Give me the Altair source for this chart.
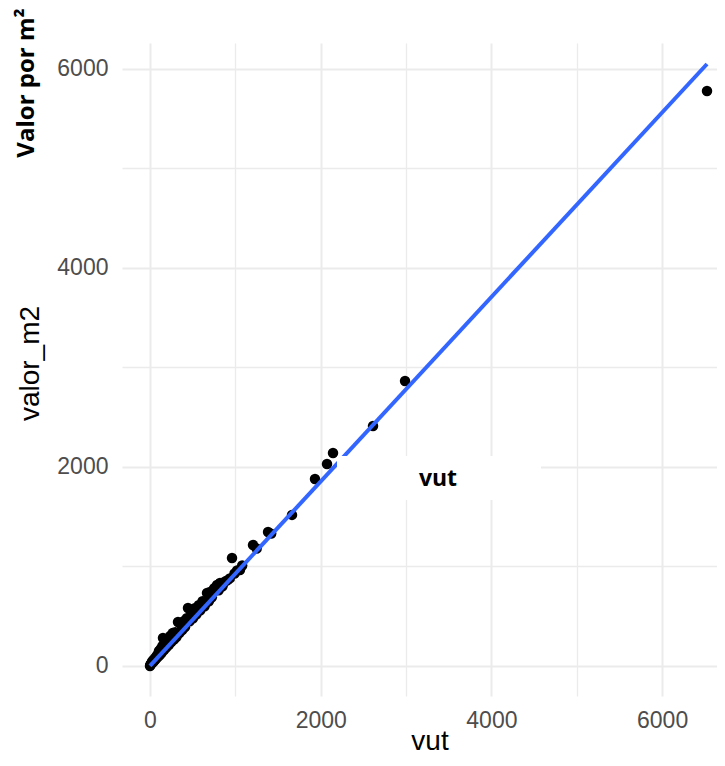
import altair as alt
import pandas as pd

# ---- data ----
vut = [0, 4, 8, 12, 18, 25, 32, 40, 48, 55, 63, 70, 78, 85, 95, 105, 115, 125, 135, 145,
       152, 165, 178, 190, 205, 220, 235, 250, 265, 280, 295, 310, 328, 345, 360, 378, 395,
       410, 430, 445, 465, 485, 505, 525, 545, 570, 590, 615, 640, 668, 690, 703, 725, 750,
       785, 805, 820, 850, 880, 905, 935, 961, 990, 1020, 1054, 1080, 1207, 1250, 1383, 1420,
       1664, 1933, 2074, 2144, 2613, 2988, 6526]
valor_m2 = [0, 10, 15, 20, 30, 45, 35, 60, 50, 75, 65, 90, 80, 110, 95, 150, 110, 170, 130, 200,
            281, 160, 230, 185, 260, 210, 300, 240, 330, 265, 340, 290, 442, 330, 420, 360, 450,
            390, 480, 583, 450, 540, 480, 580, 520, 610, 560, 650, 600, 734, 650, 744, 690, 780,
            814, 760, 834, 800, 850, 860, 880, 1085, 930, 960, 965, 1010, 1216, 1180, 1347, 1330,
            1518, 1879, 2030, 2141, 2412, 2864, 5779]
fit_vut = [0, 6526]
fit_valor_m2 = [0, 6050]
x_ticks = [0, 1000, 2000, 3000, 4000, 5000, 6000]
y_ticks = [0, 1000, 2000, 3000, 4000, 5000, 6000]
overlay_label = ["Valor por m²"]
box_label = ["vut"]

points = pd.DataFrame({"vut": vut, "valor_m2": valor_m2})
fit = pd.DataFrame({"vut": fit_vut, "valor_m2": fit_valor_m2})

W, H = 595, 653
xscale = alt.Scale(domain=[-328, 6643], nice=False, zero=False)
yscale = alt.Scale(domain=[-302, 6261], nice=False, zero=False)

major = "datum.value % 2000 === 0"
grid_w = {"condition": {"test": major, "value": 2.0}, "value": 1.3}
lab_expr = "datum.value % 2000 === 0 ? datum.label : ''"

x_axis = alt.Axis(values=x_ticks, format="d", labelExpr=lab_expr, gridWidth=grid_w,
                  title="vut", titleX=307.5, titleY=53, titleAlign="center",
                  titleBaseline="alphabetic", labelPadding=13)
y_axis = alt.Axis(values=y_ticks, format="d", labelExpr=lab_expr, gridWidth=grid_w,
                  title="valor_m2", titleAngle=270, titleX=-92, titleY=320,
                  titleAlign="center", titleBaseline="middle", labelPadding=14)

pts = alt.Chart(points).mark_circle(size=110, color="black", opacity=1).encode(
    x=alt.X("vut:Q", scale=xscale, axis=x_axis),
    y=alt.Y("valor_m2:Q", scale=yscale, axis=y_axis),
)
line = alt.Chart(fit).mark_line(color="#3366FF", strokeWidth=4).encode(
    x=alt.X("vut:Q", scale=xscale),
    y=alt.Y("valor_m2:Q", scale=yscale),
)
box = alt.Chart(pd.DataFrame({"t": box_label})).mark_rect(color="white").encode(
    x=alt.value(215), x2=alt.value(419), y=alt.value(413), y2=alt.value(457)
)
box_text = alt.Chart(pd.DataFrame({"t": box_label})).mark_text(
    font="Open Sans", fontWeight="bold", fontSize=23, color="black",
    align="center", baseline="middle"
).encode(x=alt.value(316), y=alt.value(436), text="t:N")
side_text = alt.Chart(pd.DataFrame({"t": overlay_label})).mark_text(
    font="Open Sans", fontWeight="bold", fontSize=24, color="black",
    align="center", baseline="middle", angle=270
).encode(x=alt.value(-95), y=alt.value(40), text="t:N")

chart = alt.layer(pts, line, box, box_text, side_text).properties(
    width=W, height=H,
    autosize=alt.AutoSizeParams(type="none"),
    padding={"left": 114, "top": 35, "right": 0, "bottom": 60},
    background="white",
).configure_view(stroke=None).configure_axis(
    domain=False, ticks=False, tickSize=0, grid=True, gridColor="#EBEBEB",
    labelFont="Liberation Sans", labelFontSize=23, labelColor="#4D4D4D",
    labelOverlap=False, labelFlush=False,
    titleFont="Liberation Sans", titleFontSize=28, titleColor="black",
    titleFontWeight="normal",
)

chart.save("out.html", embed_options={"renderer": "svg", "actions": False})
